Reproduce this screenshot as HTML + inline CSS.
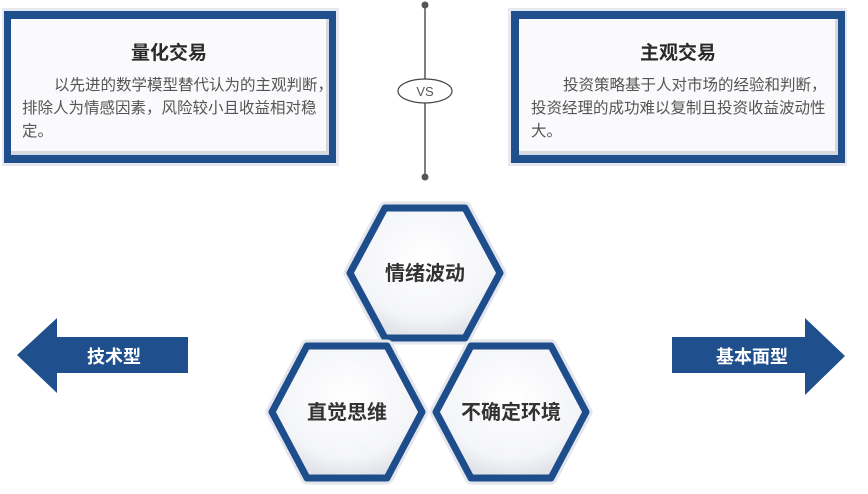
<!DOCTYPE html>
<html><head><meta charset="utf-8"><style>
html,body{margin:0;padding:0;background:#fff;width:868px;height:494px;overflow:hidden}
svg text{font-family:"Liberation Sans","Noto Sans CJK SC",sans-serif}
</style></head><body>
<svg width="868" height="494" viewBox="0 0 868 494" xmlns="http://www.w3.org/2000/svg">
<defs>
<radialGradient id="hg" cx="0.5" cy="0.4" r="0.6">
<stop offset="0" stop-color="#ffffff"/><stop offset="0.75" stop-color="#f4f5f8"/><stop offset="1" stop-color="#dfe2e8"/>
</radialGradient>
</defs>
<!-- left box -->
<rect x="2" y="8" width="337" height="158" fill="#e6e9ef"/>
<rect x="4" y="11" width="332" height="152" fill="#1f4f8c"/>
<rect x="11" y="19" width="318" height="136" fill="#d5d8de"/>
<rect x="11" y="19" width="315" height="132" fill="#fafafc"/>
<text x="169" y="59" text-anchor="middle" font-size="19" font-weight="bold" fill="#2a2a2a">量化交易</text>
<text x="54" y="90" font-size="15.5" fill="#555">以先进的数学模型替代认为的主观判断，</text>
<text x="22" y="113" font-size="15.5" fill="#555">排除人为情感因素，风险较小且收益相对稳</text>
<text x="22" y="136" font-size="15.5" fill="#555">定。</text>
<!-- right box -->
<rect x="508" y="8" width="339" height="158" fill="#e6e9ef"/>
<rect x="511" y="11" width="334" height="152" fill="#1f4f8c"/>
<rect x="519" y="19" width="319" height="136" fill="#d5d8de"/>
<rect x="519" y="19" width="316" height="132" fill="#fafafc"/>
<text x="678" y="59" text-anchor="middle" font-size="19" font-weight="bold" fill="#2a2a2a">主观交易</text>
<text x="563" y="90" font-size="15.5" fill="#555">投资策略基于人对市场的经验和判断，</text>
<text x="531" y="113" font-size="15.5" fill="#555">投资经理的成功难以复制且投资收益波动性</text>
<text x="531" y="136" font-size="15.5" fill="#555">大。</text>
<!-- vs line -->
<line x1="425" y1="5" x2="425" y2="177" stroke="#555" stroke-width="1.5"/>
<circle cx="425" cy="5" r="3.5" fill="#555"/>
<circle cx="425" cy="177" r="3.5" fill="#555"/>
<ellipse cx="425" cy="91" rx="27" ry="12" fill="#fff" stroke="#444" stroke-width="1.2"/>
<text x="425" y="96" text-anchor="middle" font-size="13" fill="#555">VS</text>
<!-- hexagons -->
<g stroke-linejoin="round">
<polygon points="385,208 465,208 500,273 465,338 385,338 350,273" fill="url(#hg)" stroke="#e3e6ec" stroke-width="13"/>
<polygon points="385,208 465,208 500,273 465,338 385,338 350,273" fill="url(#hg)" stroke="#1d4d8a" stroke-width="7"/>
<polygon points="307,346 387,346 422,412 387,478 307,478 272,412" fill="url(#hg)" stroke="#e3e6ec" stroke-width="13"/>
<polygon points="307,346 387,346 422,412 387,478 307,478 272,412" fill="url(#hg)" stroke="#1d4d8a" stroke-width="7"/>
<polygon points="471,346 551,346 586,412 551,478 471,478 436,412" fill="url(#hg)" stroke="#e3e6ec" stroke-width="13"/>
<polygon points="471,346 551,346 586,412 551,478 471,478 436,412" fill="url(#hg)" stroke="#1d4d8a" stroke-width="7"/>
</g>
<text x="425" y="280" text-anchor="middle" font-size="20" font-weight="bold" fill="#333">情绪波动</text>
<text x="347" y="419" text-anchor="middle" font-size="20" font-weight="bold" fill="#333">直觉思维</text>
<text x="511" y="419" text-anchor="middle" font-size="20" font-weight="bold" fill="#333">不确定环境</text>
<!-- arrows -->
<polygon points="17,355 57,318 57,337 188,337 188,373 57,373 57,393" fill="#1f4f8c"/>
<text x="114" y="363" text-anchor="middle" font-size="18" font-weight="bold" fill="#fff">技术型</text>
<polygon points="672,337 805,337 805,318 845,356 805,395 805,373 672,373" fill="#1f4f8c"/>
<text x="752" y="363" text-anchor="middle" font-size="18" font-weight="bold" fill="#fff">基本面型</text>
</svg>
</body></html>
